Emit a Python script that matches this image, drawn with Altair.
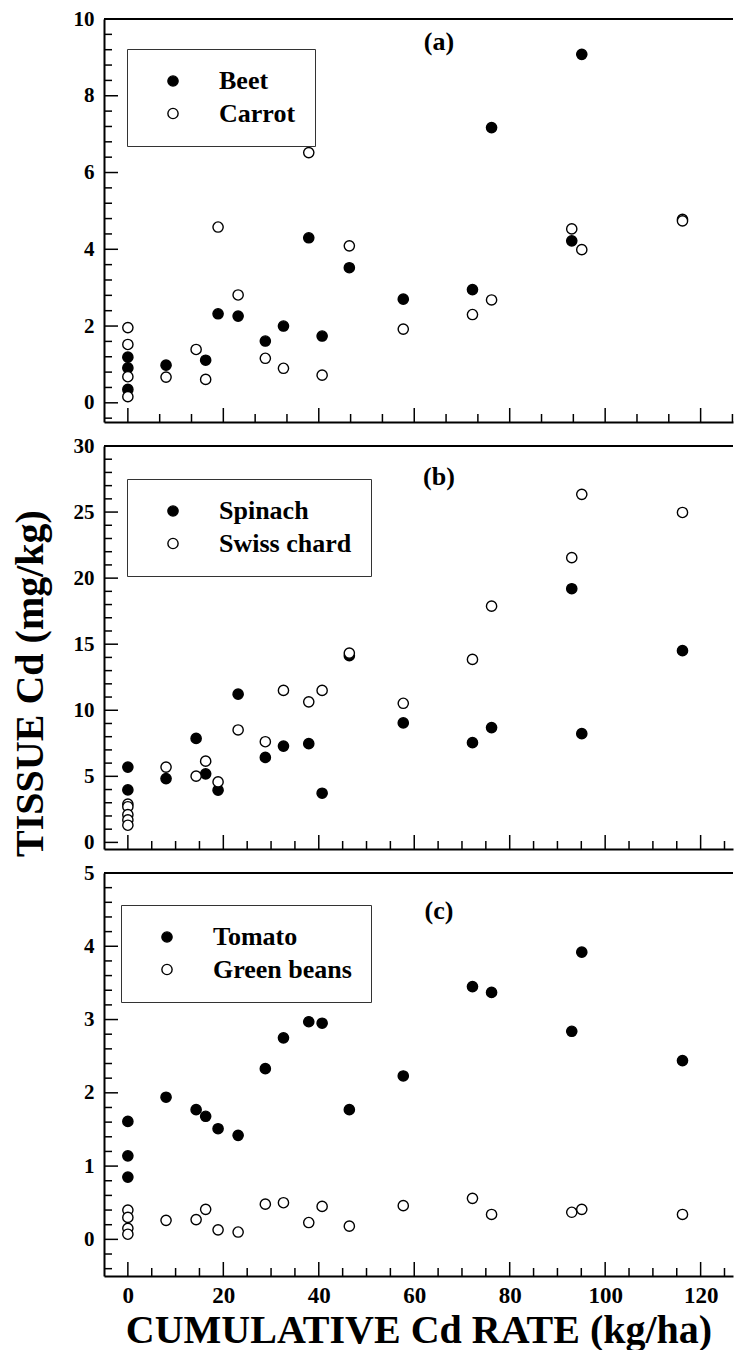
import altair as alt
import pandas as pd

FONT = "Liberation Serif, Times New Roman, Times, DejaVu Serif, serif"

# ---------------- data ----------------
beet_x = [0, 0, 0, 8.0, 16.3, 18.9, 23.1, 28.8, 32.6, 37.9, 40.7, 46.4, 57.7, 72.2, 76.2, 93.0, 95.1]
beet_y = [1.19, 0.91, 0.35, 0.98, 1.11, 2.32, 2.26, 1.61, 2.00, 4.30, 1.74, 3.52, 2.70, 2.95, 7.17, 4.22, 9.08]
carrot_x = [0, 0, 0, 0, 8.0, 14.3, 16.3, 18.9, 23.1, 28.8, 32.6, 37.9, 40.7, 46.4, 57.7, 72.2, 76.2, 93.0, 95.1, 116.2, 116.2]
carrot_y = [1.96, 1.52, 0.68, 0.16, 0.67, 1.39, 0.61, 4.58, 2.81, 1.16, 0.90, 6.52, 0.72, 4.09, 1.92, 2.30, 2.68, 4.53, 3.99, 4.78, 4.74]

spinach_x = [0, 0, 8.0, 14.3, 16.3, 18.9, 23.1, 28.8, 32.6, 37.9, 40.7, 46.4, 57.7, 72.2, 76.2, 93.0, 95.1, 116.2]
spinach_y = [5.70, 3.97, 4.83, 7.87, 5.19, 3.95, 11.22, 6.43, 7.29, 7.47, 3.72, 14.13, 9.04, 7.55, 8.69, 19.2, 8.23, 14.51]
chard_x = [0, 0, 0, 0, 0, 8.0, 14.3, 16.3, 18.9, 23.1, 28.8, 32.6, 37.9, 40.7, 46.4, 57.7, 72.2, 76.2, 93.0, 95.1, 116.2]
chard_y = [2.9, 2.7, 2.1, 1.7, 1.3, 5.70, 5.01, 6.15, 4.58, 8.51, 7.62, 11.5, 10.64, 11.5, 14.33, 10.53, 13.85, 17.88, 21.55, 26.34, 24.97]

tomato_x = [0, 0, 0, 8.0, 14.3, 16.3, 18.9, 23.1, 28.8, 32.6, 37.9, 40.7, 46.4, 57.7, 72.2, 76.2, 93.0, 95.1, 116.2]
tomato_y = [1.61, 1.14, 0.85, 1.94, 1.77, 1.68, 1.51, 1.42, 2.33, 2.75, 2.97, 2.95, 1.77, 2.23, 3.45, 3.37, 2.84, 3.92, 2.44]
beans_x = [0, 0, 0, 0, 8.0, 14.3, 16.3, 18.9, 23.1, 28.8, 32.6, 37.9, 40.7, 46.4, 57.7, 72.2, 76.2, 93.0, 95.1, 116.2]
beans_y = [0.40, 0.30, 0.15, 0.07, 0.26, 0.27, 0.41, 0.13, 0.10, 0.48, 0.50, 0.23, 0.45, 0.18, 0.46, 0.56, 0.34, 0.37, 0.41, 0.34]

# axis ticks
x_major = [0, 20, 40, 60, 80, 100, 120]
x_minor_a = [round(k * 20 / 3, 3) for k in range(1, 20) if k % 3]
x_minor_bc = [v for v in range(5, 130, 5) if v % 20]
y_major_a = [0, 2, 4, 6, 8, 10]
y_minor_a = [round(-0.4 + 0.4 * k, 2) for k in range(0, 26) if round(-0.4 + 0.4 * k, 2) not in (0, 2, 4, 6, 8, 10)]
y_major_b = [0, 5, 10, 15, 20, 25, 30]
y_minor_b = [v for v in range(1, 30) if v % 5]
y_major_c = [0, 1, 2, 3, 4, 5]
y_minor_c = [round(-0.4 + 0.2 * k, 2) for k in range(0, 27) if abs(round(-0.4 + 0.2 * k, 2) - round(-0.4 + 0.2 * k)) > 1e-6]

W = 629
XDOM = [-5, -5 + W / 4.773]
H = 403
MAJ = 14
MIN = 8


def panel(names, xs_list, ys_list, ydom, ymaj, ymin, xmin, leg_x, leg_y, tag, tag_y,
          bottom=False, ytitle=False):
    rows = []
    for k, (n, xs, ys) in enumerate(zip(names, xs_list, ys_list)):
        for x, y in zip(xs, ys):
            rows.append({"rate": x, "cd": y, "crop": n, "k": k})
    df = pd.DataFrame(rows)

    xs = alt.Scale(domain=XDOM, nice=False, zero=False)
    ys = alt.Scale(domain=ydom, nice=False, zero=False)

    if bottom:
        xaxis = alt.Axis(values=x_major, ticks=False, tickSize=0, labelPadding=8,
                         labelFont=FONT, labelFontSize=23, labelFontWeight="bold", labelColor="black",
                         title="CUMULATIVE Cd RATE (kg/ha)", titleFont=FONT, titleFontSize=40,
                         titleFontWeight="bold", titleColor="black", titlePadding=3,
                         domainWidth=2, domainColor="black", grid=False)
    else:
        xaxis = alt.Axis(values=x_major, ticks=False, tickSize=0, labels=False, title=None,
                         domainWidth=2, domainColor="black", grid=False)
    if ytitle:
        yaxis = alt.Axis(values=ymaj, ticks=False, tickSize=0, labelPadding=10,
                         labelFont=FONT, labelFontSize=21, labelFontWeight="bold", labelColor="black",
                         title="TISSUE Cd (mg/kg)", titleFont=FONT, titleFontSize=40,
                         titleFontWeight="bold", titleColor="black", titleAngle=270,
                         titleBaseline="alphabetic", titleAlign="center", titleX=-62, titleY=237,
                         domainWidth=2, domainColor="black", grid=False)
    else:
        yaxis = alt.Axis(values=ymaj, ticks=False, tickSize=0, labelPadding=10,
                         labelFont=FONT, labelFontSize=21, labelFontWeight="bold", labelColor="black",
                         title=None, domainWidth=2, domainColor="black", grid=False)

    X = lambda f: alt.X(f, scale=xs, axis=xaxis)
    Y = lambda f: alt.Y(f, scale=ys, axis=yaxis)

    pts = alt.Chart(df).mark_point(shape="circle", size=105, stroke="black", strokeWidth=1.4,
                                   opacity=1, fillOpacity=1).encode(
        x=X("rate:Q"),
        y=Y("cd:Q"),
        fill=alt.Fill("crop:N", scale=alt.Scale(domain=names, range=["black", "white"]),
                      legend=alt.Legend(orient="none", legendX=leg_x, legendY=leg_y, title=None,
                                        fillColor="white", strokeColor="#333333", padding=19,
                                        symbolOffset=14, labelOffset=33, rowPadding=6.5,
                                        labelFont=FONT, labelFontSize=26, labelFontWeight="bold",
                                        labelColor="black", symbolType="circle", symbolSize=105,
                                        symbolStrokeColor="black", symbolStrokeWidth=1.4)),
        order=alt.Order("k:Q"),
    )

    ytmaj = alt.Chart(pd.DataFrame({"v": ymaj})).mark_rule(color="black", strokeWidth=1.5).encode(
        y=Y("v:Q"), x=alt.value(0), x2=alt.value(MAJ))
    ytmin = alt.Chart(pd.DataFrame({"v": ymin})).mark_rule(color="black", strokeWidth=1.5).encode(
        y=Y("v:Q"), x=alt.value(0), x2=alt.value(MIN))
    xtmaj = alt.Chart(pd.DataFrame({"v": x_major})).mark_rule(color="black", strokeWidth=1.5).encode(
        x=X("v:Q"), y=alt.value(H), y2=alt.value(H - MAJ))
    xtmin = alt.Chart(pd.DataFrame({"v": xmin})).mark_rule(color="black", strokeWidth=1.5).encode(
        x=X("v:Q"), y=alt.value(H), y2=alt.value(H - MIN))
    top = alt.Chart(pd.DataFrame({"v": [0]})).mark_rule(color="black", strokeWidth=2).encode(
        x=alt.value(0), x2=alt.value(W), y=alt.value(0))
    lab = alt.Chart(pd.DataFrame({"t": [tag]})).mark_text(
        font=FONT, fontSize=26, fontWeight="bold", color="black", baseline="middle", align="center").encode(
        x=alt.value(335), y=alt.value(tag_y), text="t:N")

    return alt.layer(ytmin, ytmaj, xtmin, xtmaj, top, pts, lab).properties(width=W, height=H)


pa = panel(["Beet", "Carrot"], [beet_x, carrot_x], [beet_y, carrot_y], [-0.5, 10],
           y_major_a, y_minor_a, x_minor_a, 23, 30, "(a)", 23)
pb = panel(["Spinach", "Swiss chard"], [spinach_x, chard_x], [spinach_y, chard_y], [-0.5, 30],
           y_major_b, y_minor_b, x_minor_bc, 23, 33, "(b)", 31, ytitle=True)
pc = panel(["Tomato", "Green beans"], [tomato_x, beans_x], [tomato_y, beans_y], [-0.5, 5],
           y_major_c, y_minor_c, x_minor_bc, 17, 32, "(c)", 38, bottom=True)

chart = alt.vconcat(pa, pb, pc, spacing=24, bounds="flush").resolve_scale(
    y="independent", fill="independent").resolve_legend(fill="independent").properties(
    padding={"left": 1, "top": 0, "right": 0, "bottom": 0}, background="white"
).configure_view(stroke=None)

chart.save("out.html", embed_options={"renderer": "svg", "actions": False})
